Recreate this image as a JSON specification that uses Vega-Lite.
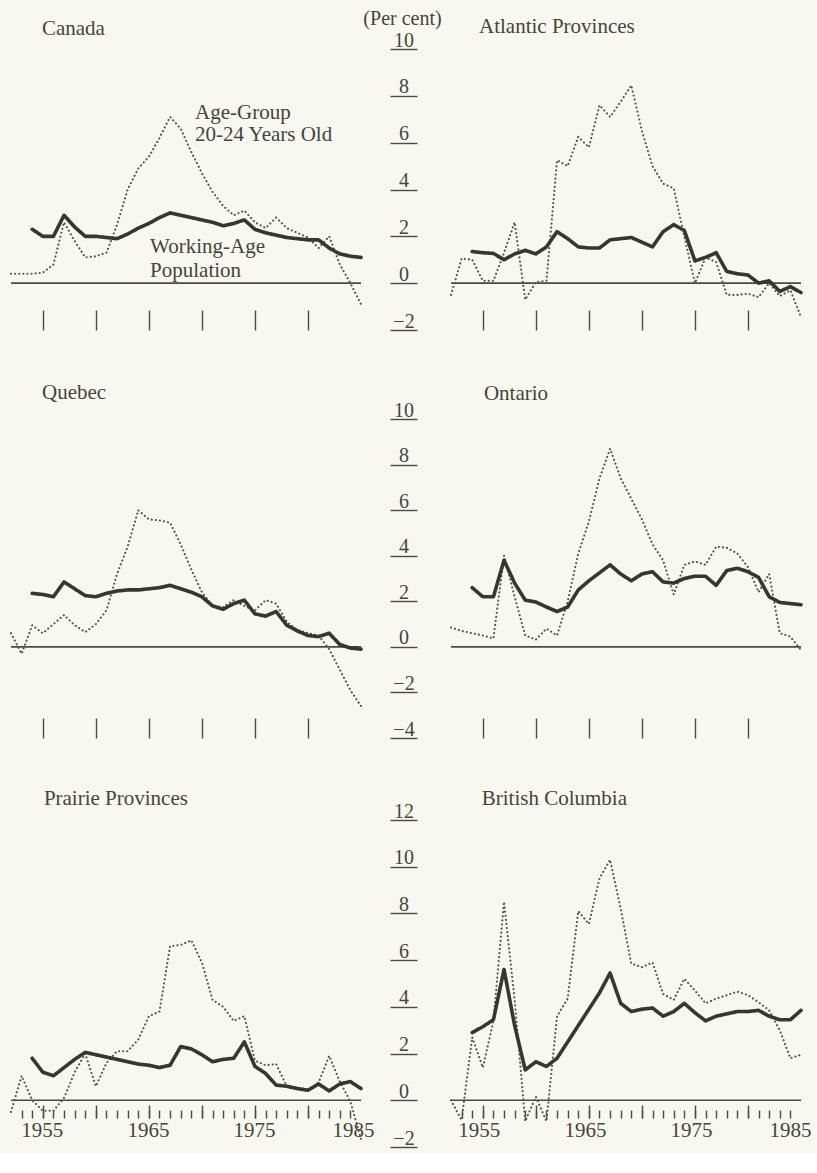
{
  "$schema": "https://vega.github.io/schema/vega-lite/v6.json",
  "background": "#f8f8f0",
  "padding": {"left": 9, "top": 8, "right": 5, "bottom": 5},
  "datasets": {
    "growth": [
      {"region": "Canada", "year": 1952, "youth": 0.4, "working": null},
      {"region": "Canada", "year": 1953, "youth": 0.4, "working": null},
      {"region": "Canada", "year": 1954, "youth": 0.4, "working": 2.3},
      {"region": "Canada", "year": 1955, "youth": 0.45, "working": 2.0},
      {"region": "Canada", "year": 1956, "youth": 0.8, "working": 2.0},
      {"region": "Canada", "year": 1957, "youth": 2.6, "working": 2.9},
      {"region": "Canada", "year": 1958, "youth": 1.8, "working": 2.4},
      {"region": "Canada", "year": 1959, "youth": 1.1, "working": 2.0},
      {"region": "Canada", "year": 1960, "youth": 1.15, "working": 2.0},
      {"region": "Canada", "year": 1961, "youth": 1.3, "working": 1.95},
      {"region": "Canada", "year": 1962, "youth": 2.5, "working": 1.9},
      {"region": "Canada", "year": 1963, "youth": 4.0, "working": 2.1},
      {"region": "Canada", "year": 1964, "youth": 4.9, "working": 2.35},
      {"region": "Canada", "year": 1965, "youth": 5.4, "working": 2.55},
      {"region": "Canada", "year": 1966, "youth": 6.2, "working": 2.8},
      {"region": "Canada", "year": 1967, "youth": 7.1, "working": 3.0},
      {"region": "Canada", "year": 1968, "youth": 6.6, "working": 2.9},
      {"region": "Canada", "year": 1969, "youth": 5.6, "working": 2.8},
      {"region": "Canada", "year": 1970, "youth": 4.7, "working": 2.7},
      {"region": "Canada", "year": 1971, "youth": 3.9, "working": 2.6},
      {"region": "Canada", "year": 1972, "youth": 3.3, "working": 2.45},
      {"region": "Canada", "year": 1973, "youth": 2.9, "working": 2.55},
      {"region": "Canada", "year": 1974, "youth": 3.1, "working": 2.7},
      {"region": "Canada", "year": 1975, "youth": 2.6, "working": 2.3},
      {"region": "Canada", "year": 1976, "youth": 2.35, "working": 2.15},
      {"region": "Canada", "year": 1977, "youth": 2.8, "working": 2.05},
      {"region": "Canada", "year": 1978, "youth": 2.35, "working": 1.95},
      {"region": "Canada", "year": 1979, "youth": 2.15, "working": 1.9},
      {"region": "Canada", "year": 1980, "youth": 1.95, "working": 1.85},
      {"region": "Canada", "year": 1981, "youth": 1.5, "working": 1.85},
      {"region": "Canada", "year": 1982, "youth": 2.0, "working": 1.5},
      {"region": "Canada", "year": 1983, "youth": 0.8, "working": 1.25},
      {"region": "Canada", "year": 1984, "youth": 0.0, "working": 1.15},
      {"region": "Canada", "year": 1985, "youth": -0.9, "working": 1.1},

      {"region": "Atlantic", "year": 1952, "youth": -0.5, "working": null},
      {"region": "Atlantic", "year": 1953, "youth": 1.05, "working": null},
      {"region": "Atlantic", "year": 1954, "youth": 1.0, "working": 1.35},
      {"region": "Atlantic", "year": 1955, "youth": 0.1, "working": 1.3},
      {"region": "Atlantic", "year": 1956, "youth": 0.1, "working": 1.27},
      {"region": "Atlantic", "year": 1957, "youth": 1.3, "working": 1.0},
      {"region": "Atlantic", "year": 1958, "youth": 2.6, "working": 1.25},
      {"region": "Atlantic", "year": 1959, "youth": -0.7, "working": 1.4},
      {"region": "Atlantic", "year": 1960, "youth": 0.05, "working": 1.25},
      {"region": "Atlantic", "year": 1961, "youth": 0.1, "working": 1.55},
      {"region": "Atlantic", "year": 1962, "youth": 5.25, "working": 2.2},
      {"region": "Atlantic", "year": 1963, "youth": 5.0, "working": 1.9},
      {"region": "Atlantic", "year": 1964, "youth": 6.25, "working": 1.55},
      {"region": "Atlantic", "year": 1965, "youth": 5.8, "working": 1.5},
      {"region": "Atlantic", "year": 1966, "youth": 7.6, "working": 1.5},
      {"region": "Atlantic", "year": 1967, "youth": 7.1, "working": 1.85},
      {"region": "Atlantic", "year": 1968, "youth": 7.75, "working": 1.9},
      {"region": "Atlantic", "year": 1969, "youth": 8.45, "working": 1.95},
      {"region": "Atlantic", "year": 1970, "youth": 6.5, "working": 1.75},
      {"region": "Atlantic", "year": 1971, "youth": 5.0, "working": 1.55},
      {"region": "Atlantic", "year": 1972, "youth": 4.25, "working": 2.2},
      {"region": "Atlantic", "year": 1973, "youth": 4.05, "working": 2.5},
      {"region": "Atlantic", "year": 1974, "youth": 2.0, "working": 2.25},
      {"region": "Atlantic", "year": 1975, "youth": 0.0, "working": 0.95},
      {"region": "Atlantic", "year": 1976, "youth": 1.1, "working": 1.1},
      {"region": "Atlantic", "year": 1977, "youth": 0.9, "working": 1.3},
      {"region": "Atlantic", "year": 1978, "youth": -0.5, "working": 0.5},
      {"region": "Atlantic", "year": 1979, "youth": -0.5, "working": 0.4},
      {"region": "Atlantic", "year": 1980, "youth": -0.45, "working": 0.35},
      {"region": "Atlantic", "year": 1981, "youth": -0.6, "working": 0.0},
      {"region": "Atlantic", "year": 1982, "youth": 0.0, "working": 0.1},
      {"region": "Atlantic", "year": 1983, "youth": -0.55, "working": -0.35},
      {"region": "Atlantic", "year": 1984, "youth": -0.3, "working": -0.15},
      {"region": "Atlantic", "year": 1985, "youth": -1.45, "working": -0.4},

      {"region": "Quebec", "year": 1952, "youth": 0.6, "working": null},
      {"region": "Quebec", "year": 1953, "youth": -0.3, "working": null},
      {"region": "Quebec", "year": 1954, "youth": 0.95, "working": 2.35},
      {"region": "Quebec", "year": 1955, "youth": 0.6, "working": 2.3},
      {"region": "Quebec", "year": 1956, "youth": 1.0, "working": 2.2},
      {"region": "Quebec", "year": 1957, "youth": 1.4, "working": 2.85},
      {"region": "Quebec", "year": 1958, "youth": 0.95, "working": 2.55},
      {"region": "Quebec", "year": 1959, "youth": 0.65, "working": 2.25},
      {"region": "Quebec", "year": 1960, "youth": 1.0, "working": 2.2},
      {"region": "Quebec", "year": 1961, "youth": 1.6, "working": 2.35},
      {"region": "Quebec", "year": 1962, "youth": 3.2, "working": 2.45},
      {"region": "Quebec", "year": 1963, "youth": 4.4, "working": 2.5},
      {"region": "Quebec", "year": 1964, "youth": 6.0, "working": 2.5},
      {"region": "Quebec", "year": 1965, "youth": 5.6, "working": 2.55},
      {"region": "Quebec", "year": 1966, "youth": 5.55, "working": 2.6},
      {"region": "Quebec", "year": 1967, "youth": 5.45, "working": 2.7},
      {"region": "Quebec", "year": 1968, "youth": 4.5, "working": 2.55},
      {"region": "Quebec", "year": 1969, "youth": 3.4, "working": 2.4},
      {"region": "Quebec", "year": 1970, "youth": 2.4, "working": 2.2},
      {"region": "Quebec", "year": 1971, "youth": 1.8, "working": 1.8},
      {"region": "Quebec", "year": 1972, "youth": 1.75, "working": 1.65},
      {"region": "Quebec", "year": 1973, "youth": 2.05, "working": 1.9},
      {"region": "Quebec", "year": 1974, "youth": 1.8, "working": 2.05},
      {"region": "Quebec", "year": 1975, "youth": 1.6, "working": 1.45},
      {"region": "Quebec", "year": 1976, "youth": 2.05, "working": 1.35},
      {"region": "Quebec", "year": 1977, "youth": 1.9, "working": 1.55},
      {"region": "Quebec", "year": 1978, "youth": 1.1, "working": 0.95},
      {"region": "Quebec", "year": 1979, "youth": 0.75, "working": 0.7},
      {"region": "Quebec", "year": 1980, "youth": 0.6, "working": 0.5},
      {"region": "Quebec", "year": 1981, "youth": 0.5, "working": 0.45},
      {"region": "Quebec", "year": 1982, "youth": -0.1, "working": 0.6},
      {"region": "Quebec", "year": 1983, "youth": -1.0, "working": 0.1},
      {"region": "Quebec", "year": 1984, "youth": -1.9, "working": -0.05},
      {"region": "Quebec", "year": 1985, "youth": -2.6, "working": -0.1},

      {"region": "Ontario", "year": 1952, "youth": 0.85, "working": null},
      {"region": "Ontario", "year": 1953, "youth": 0.7, "working": null},
      {"region": "Ontario", "year": 1954, "youth": 0.6, "working": 2.6},
      {"region": "Ontario", "year": 1955, "youth": 0.5, "working": 2.2},
      {"region": "Ontario", "year": 1956, "youth": 0.37, "working": 2.2},
      {"region": "Ontario", "year": 1957, "youth": 4.0, "working": 3.8},
      {"region": "Ontario", "year": 1958, "youth": 2.2, "working": 2.8},
      {"region": "Ontario", "year": 1959, "youth": 0.5, "working": 2.05},
      {"region": "Ontario", "year": 1960, "youth": 0.32, "working": 1.97},
      {"region": "Ontario", "year": 1961, "youth": 0.8, "working": 1.75},
      {"region": "Ontario", "year": 1962, "youth": 0.5, "working": 1.55},
      {"region": "Ontario", "year": 1963, "youth": 2.0, "working": 1.75},
      {"region": "Ontario", "year": 1964, "youth": 4.1, "working": 2.5},
      {"region": "Ontario", "year": 1965, "youth": 5.5, "working": 2.9},
      {"region": "Ontario", "year": 1966, "youth": 7.4, "working": 3.25},
      {"region": "Ontario", "year": 1967, "youth": 8.7, "working": 3.6},
      {"region": "Ontario", "year": 1968, "youth": 7.4, "working": 3.2},
      {"region": "Ontario", "year": 1969, "youth": 6.5, "working": 2.9},
      {"region": "Ontario", "year": 1970, "youth": 5.6, "working": 3.2},
      {"region": "Ontario", "year": 1971, "youth": 4.5, "working": 3.3},
      {"region": "Ontario", "year": 1972, "youth": 3.8, "working": 2.85},
      {"region": "Ontario", "year": 1973, "youth": 2.3, "working": 2.8},
      {"region": "Ontario", "year": 1974, "youth": 3.6, "working": 3.0},
      {"region": "Ontario", "year": 1975, "youth": 3.75, "working": 3.1},
      {"region": "Ontario", "year": 1976, "youth": 3.6, "working": 3.1},
      {"region": "Ontario", "year": 1977, "youth": 4.4, "working": 2.7},
      {"region": "Ontario", "year": 1978, "youth": 4.35, "working": 3.35},
      {"region": "Ontario", "year": 1979, "youth": 4.1, "working": 3.45},
      {"region": "Ontario", "year": 1980, "youth": 3.5, "working": 3.3},
      {"region": "Ontario", "year": 1981, "youth": 2.4, "working": 3.05},
      {"region": "Ontario", "year": 1982, "youth": 3.2, "working": 2.2},
      {"region": "Ontario", "year": 1983, "youth": 0.6, "working": 1.95},
      {"region": "Ontario", "year": 1984, "youth": 0.45, "working": 1.9},
      {"region": "Ontario", "year": 1985, "youth": -0.15, "working": 1.85},

      {"region": "Prairie", "year": 1952, "youth": -0.5, "working": null},
      {"region": "Prairie", "year": 1953, "youth": 1.05, "working": null},
      {"region": "Prairie", "year": 1954, "youth": 0.0, "working": 1.8},
      {"region": "Prairie", "year": 1955, "youth": -0.45, "working": 1.2},
      {"region": "Prairie", "year": 1956, "youth": -0.45, "working": 1.05},
      {"region": "Prairie", "year": 1957, "youth": 0.1, "working": 1.4},
      {"region": "Prairie", "year": 1958, "youth": 1.2, "working": 1.75},
      {"region": "Prairie", "year": 1959, "youth": 2.0, "working": 2.05},
      {"region": "Prairie", "year": 1960, "youth": 0.6, "working": 1.95},
      {"region": "Prairie", "year": 1961, "youth": 1.6, "working": 1.85},
      {"region": "Prairie", "year": 1962, "youth": 2.1, "working": 1.75},
      {"region": "Prairie", "year": 1963, "youth": 2.1, "working": 1.65},
      {"region": "Prairie", "year": 1964, "youth": 2.6, "working": 1.55},
      {"region": "Prairie", "year": 1965, "youth": 3.6, "working": 1.5},
      {"region": "Prairie", "year": 1966, "youth": 3.8, "working": 1.4},
      {"region": "Prairie", "year": 1967, "youth": 6.6, "working": 1.5},
      {"region": "Prairie", "year": 1968, "youth": 6.65, "working": 2.3},
      {"region": "Prairie", "year": 1969, "youth": 6.85, "working": 2.2},
      {"region": "Prairie", "year": 1970, "youth": 5.9, "working": 1.95},
      {"region": "Prairie", "year": 1971, "youth": 4.3, "working": 1.65},
      {"region": "Prairie", "year": 1972, "youth": 4.0, "working": 1.75},
      {"region": "Prairie", "year": 1973, "youth": 3.4, "working": 1.8},
      {"region": "Prairie", "year": 1974, "youth": 3.6, "working": 2.5},
      {"region": "Prairie", "year": 1975, "youth": 1.7, "working": 1.45},
      {"region": "Prairie", "year": 1976, "youth": 1.5, "working": 1.15},
      {"region": "Prairie", "year": 1977, "youth": 1.55, "working": 0.65},
      {"region": "Prairie", "year": 1978, "youth": 0.6, "working": 0.6},
      {"region": "Prairie", "year": 1979, "youth": 0.55, "working": 0.5},
      {"region": "Prairie", "year": 1980, "youth": 0.45, "working": 0.43},
      {"region": "Prairie", "year": 1981, "youth": 0.75, "working": 0.7},
      {"region": "Prairie", "year": 1982, "youth": 1.9, "working": 0.4},
      {"region": "Prairie", "year": 1983, "youth": 0.8, "working": 0.7},
      {"region": "Prairie", "year": 1984, "youth": -0.05, "working": 0.8},
      {"region": "Prairie", "year": 1985, "youth": -1.65, "working": 0.5},

      {"region": "BC", "year": 1952, "youth": 0.0, "working": null},
      {"region": "BC", "year": 1953, "youth": -0.85, "working": null},
      {"region": "BC", "year": 1954, "youth": 2.7, "working": 2.9},
      {"region": "BC", "year": 1955, "youth": 1.4, "working": 3.15},
      {"region": "BC", "year": 1956, "youth": 3.4, "working": 3.45},
      {"region": "BC", "year": 1957, "youth": 8.5, "working": 5.6},
      {"region": "BC", "year": 1958, "youth": 4.3, "working": 3.2},
      {"region": "BC", "year": 1959, "youth": -0.9, "working": 1.3},
      {"region": "BC", "year": 1960, "youth": 0.15, "working": 1.65},
      {"region": "BC", "year": 1961, "youth": -0.9, "working": 1.45},
      {"region": "BC", "year": 1962, "youth": 3.6, "working": 1.8},
      {"region": "BC", "year": 1963, "youth": 4.35, "working": 2.5},
      {"region": "BC", "year": 1964, "youth": 8.1, "working": 3.2},
      {"region": "BC", "year": 1965, "youth": 7.55, "working": 3.9},
      {"region": "BC", "year": 1966, "youth": 9.5, "working": 4.6},
      {"region": "BC", "year": 1967, "youth": 10.3, "working": 5.45},
      {"region": "BC", "year": 1968, "youth": 8.2, "working": 4.15},
      {"region": "BC", "year": 1969, "youth": 5.85, "working": 3.8},
      {"region": "BC", "year": 1970, "youth": 5.7, "working": 3.9},
      {"region": "BC", "year": 1971, "youth": 5.9, "working": 3.95},
      {"region": "BC", "year": 1972, "youth": 4.55, "working": 3.6},
      {"region": "BC", "year": 1973, "youth": 4.3, "working": 3.8},
      {"region": "BC", "year": 1974, "youth": 5.2, "working": 4.15},
      {"region": "BC", "year": 1975, "youth": 4.7, "working": 3.75},
      {"region": "BC", "year": 1976, "youth": 4.15, "working": 3.4},
      {"region": "BC", "year": 1977, "youth": 4.35, "working": 3.6},
      {"region": "BC", "year": 1978, "youth": 4.5, "working": 3.7},
      {"region": "BC", "year": 1979, "youth": 4.65, "working": 3.8},
      {"region": "BC", "year": 1980, "youth": 4.5, "working": 3.8},
      {"region": "BC", "year": 1981, "youth": 4.2, "working": 3.85},
      {"region": "BC", "year": 1982, "youth": 3.85, "working": 3.6},
      {"region": "BC", "year": 1983, "youth": 3.0, "working": 3.45},
      {"region": "BC", "year": 1984, "youth": 1.8, "working": 3.45},
      {"region": "BC", "year": 1985, "youth": 1.95, "working": 3.85}
    ]
  },
  "columns": 2,
  "spacing": {"row": 82, "column": 90},
  "bounds": "flush",
  "concat": [
    {
      "width": 350, "height": 281,
      "layer": [
        {"data": {"values": [{}]}, "mark": {"type": "rule", "color": "#4b4b44", "strokeWidth": 1.6},
         "encoding": {"y": {"datum": 0, "type": "quantitative", "scale": {"domain": [-2, 10], "nice": false, "zero": false}, "axis": null}}},
        {"data": {"name": "growth"},
         "transform": [{"filter": {"field": "region", "equal": "Canada"}}, {"fold": ["youth", "working"], "as": ["series", "v"]}],
         "mark": {"type": "line", "strokeCap": "round", "strokeJoin": "round"},
         "encoding": {
           "x": {"field": "year", "type": "quantitative", "scale": {"domain": [1952, 1985], "nice": false, "zero": false},
                 "axis": {"values": [1955, 1960, 1965, 1970, 1975, 1980], "labels": false, "tickSize": -20, "title": null}},
           "y": {"field": "v", "type": "quantitative", "scale": {"domain": [-2, 10], "nice": false, "zero": false}, "axis": null},
           "detail": {"field": "series"},
           "strokeDash": {"field": "series", "type": "nominal", "scale": {"domain": ["youth", "working"], "range": [[0.1, 4], [1, 0]]}, "legend": null},
           "strokeWidth": {"field": "series", "type": "nominal", "scale": {"domain": ["youth", "working"], "range": [2.1, 3.6]}, "legend": null},
           "color": {"field": "series", "type": "nominal", "scale": {"domain": ["youth", "working"], "range": ["#55554d", "#37372f"]}, "legend": null}
         }},
        {"data": {"values": [
           {"year": 1954.92, "v": 10.6, "t": "Canada"},
           {"year": 1969.36, "v": 7.0, "t": "Age-Group"},
           {"year": 1969.36, "v": 6.07, "t": "20-24 Years Old"},
           {"year": 1965.11, "v": 1.28, "t": "Working-Age"},
           {"year": 1965.11, "v": 0.26, "t": "Population"}
         ]},
         "mark": {"type": "text", "align": "left", "baseline": "alphabetic"},
         "encoding": {"x": {"field": "year", "type": "quantitative"}, "y": {"field": "v", "type": "quantitative", "axis": null}, "text": {"field": "t"}}}
      ]
    },
    {
      "width": 350, "height": 281,
      "layer": [
        {"data": {"values": [{}]}, "mark": {"type": "rule", "color": "#4b4b44", "strokeWidth": 1.6},
         "encoding": {"y": {"datum": 0, "type": "quantitative", "scale": {"domain": [-2, 10], "nice": false, "zero": false}}}},
        {"data": {"name": "growth"},
         "transform": [{"filter": {"field": "region", "equal": "Atlantic"}}, {"fold": ["youth", "working"], "as": ["series", "v"]}],
         "mark": {"type": "line", "strokeCap": "round", "strokeJoin": "round"},
         "encoding": {
           "x": {"field": "year", "type": "quantitative", "scale": {"domain": [1952, 1985], "nice": false, "zero": false},
                 "axis": {"values": [1955, 1960, 1965, 1970, 1975, 1980], "labels": false, "tickSize": -20, "title": null}},
           "y": {"field": "v", "type": "quantitative", "scale": {"domain": [-2, 10], "nice": false, "zero": false},
                 "axis": {"orient": "left", "values": [-2, 0, 2, 4, 6, 8, 10], "offset": 34, "tickSize": 27, "labelPadding": -13.5, "labelAlign": "center", "labelBaseline": "alphabetic", "labelOffset": -3, "labelOverlap": false, "labelFlush": false,
                          "title": "(Per cent)", "titleAngle": 0, "titleX": -15, "titleY": -25, "titleAlign": "center", "titleBaseline": "alphabetic"}},
           "detail": {"field": "series"},
           "strokeDash": {"field": "series", "type": "nominal", "scale": {"domain": ["youth", "working"], "range": [[0.1, 4], [1, 0]]}, "legend": null},
           "strokeWidth": {"field": "series", "type": "nominal", "scale": {"domain": ["youth", "working"], "range": [2.1, 3.6]}, "legend": null},
           "color": {"field": "series", "type": "nominal", "scale": {"domain": ["youth", "working"], "range": ["#55554d", "#37372f"]}, "legend": null}
         }},
        {"data": {"values": [{"year": 1954.64, "v": 10.68, "t": "Atlantic Provinces"}]},
         "mark": {"type": "text", "align": "left", "baseline": "alphabetic"},
         "encoding": {"x": {"field": "year", "type": "quantitative"}, "y": {"field": "v", "type": "quantitative"}, "text": {"field": "t"}}}
      ]
    },
    {
      "width": 350, "height": 326,
      "layer": [
        {"data": {"values": [{}]}, "mark": {"type": "rule", "color": "#4b4b44", "strokeWidth": 1.6},
         "encoding": {"y": {"datum": 0, "type": "quantitative", "scale": {"domain": [-4, 10.31], "nice": false, "zero": false}, "axis": null}}},
        {"data": {"name": "growth"},
         "transform": [{"filter": {"field": "region", "equal": "Quebec"}}, {"fold": ["youth", "working"], "as": ["series", "v"]}],
         "mark": {"type": "line", "strokeCap": "round", "strokeJoin": "round"},
         "encoding": {
           "x": {"field": "year", "type": "quantitative", "scale": {"domain": [1952, 1985], "nice": false, "zero": false},
                 "axis": {"values": [1955, 1960, 1965, 1970, 1975, 1980], "labels": false, "tickSize": -20, "title": null}},
           "y": {"field": "v", "type": "quantitative", "scale": {"domain": [-4, 10.31], "nice": false, "zero": false}, "axis": null},
           "detail": {"field": "series"},
           "strokeDash": {"field": "series", "type": "nominal", "scale": {"domain": ["youth", "working"], "range": [[0.1, 4], [1, 0]]}, "legend": null},
           "strokeWidth": {"field": "series", "type": "nominal", "scale": {"domain": ["youth", "working"], "range": [2.1, 3.6]}, "legend": null},
           "color": {"field": "series", "type": "nominal", "scale": {"domain": ["youth", "working"], "range": ["#55554d", "#37372f"]}, "legend": null}
         }},
        {"data": {"values": [{"year": 1954.92, "v": 10.88, "t": "Quebec"}]},
         "mark": {"type": "text", "align": "left", "baseline": "alphabetic"},
         "encoding": {"x": {"field": "year", "type": "quantitative"}, "y": {"field": "v", "type": "quantitative", "axis": null}, "text": {"field": "t"}}}
      ]
    },
    {
      "width": 350, "height": 326,
      "layer": [
        {"data": {"values": [{}]}, "mark": {"type": "rule", "color": "#4b4b44", "strokeWidth": 1.6},
         "encoding": {"y": {"datum": 0, "type": "quantitative", "scale": {"domain": [-4, 10.31], "nice": false, "zero": false}}}},
        {"data": {"name": "growth"},
         "transform": [{"filter": {"field": "region", "equal": "Ontario"}}, {"fold": ["youth", "working"], "as": ["series", "v"]}],
         "mark": {"type": "line", "strokeCap": "round", "strokeJoin": "round"},
         "encoding": {
           "x": {"field": "year", "type": "quantitative", "scale": {"domain": [1952, 1985], "nice": false, "zero": false},
                 "axis": {"values": [1955, 1960, 1965, 1970, 1975, 1980], "labels": false, "tickSize": -20, "title": null}},
           "y": {"field": "v", "type": "quantitative", "scale": {"domain": [-4, 10.31], "nice": false, "zero": false},
                 "axis": {"orient": "left", "values": [-4, -2, 0, 2, 4, 6, 8, 10], "offset": 34, "tickSize": 27, "labelPadding": -13.5, "labelAlign": "center", "labelBaseline": "alphabetic", "labelOffset": -3, "labelOverlap": false, "labelFlush": false, "title": null}},
           "detail": {"field": "series"},
           "strokeDash": {"field": "series", "type": "nominal", "scale": {"domain": ["youth", "working"], "range": [[0.1, 4], [1, 0]]}, "legend": null},
           "strokeWidth": {"field": "series", "type": "nominal", "scale": {"domain": ["youth", "working"], "range": [2.1, 3.6]}, "legend": null},
           "color": {"field": "series", "type": "nominal", "scale": {"domain": ["youth", "working"], "range": ["#55554d", "#37372f"]}, "legend": null}
         }},
        {"data": {"values": [{"year": 1955.1, "v": 10.83, "t": "Ontario"}]},
         "mark": {"type": "text", "align": "left", "baseline": "alphabetic"},
         "encoding": {"x": {"field": "year", "type": "quantitative"}, "y": {"field": "v", "type": "quantitative"}, "text": {"field": "t"}}}
      ]
    },
    {
      "width": 350, "height": 327,
      "resolve": {"axis": {"x": "independent"}},
      "layer": [
        {"data": {"values": [{}]}, "mark": {"type": "rule", "color": "#4b4b44", "strokeWidth": 1.6},
         "encoding": {"y": {"datum": 0, "type": "quantitative", "scale": {"domain": [-2, 12], "nice": false, "zero": false}, "axis": null}}},
        {"data": {"name": "growth"},
         "transform": [{"filter": {"field": "region", "equal": "Prairie"}}, {"fold": ["youth", "working"], "as": ["series", "v"]}],
         "mark": {"type": "line", "strokeCap": "round", "strokeJoin": "round"},
         "encoding": {
           "x": {"field": "year", "type": "quantitative", "scale": {"domain": [1952, 1985], "nice": false, "zero": false},
                 "axis": {"orient": "bottom", "values": [1953, 1954, 1955, 1956, 1957, 1958, 1959, 1960, 1961, 1962, 1963, 1964, 1965, 1966, 1967, 1968, 1969, 1970, 1971, 1972, 1973, 1974, 1975, 1976, 1977, 1978, 1979, 1980, 1981, 1982, 1983, 1984, 1985],
                          "tickCount": 40, "format": "d", "labelExpr": "datum.value % 10 === 5 ? datum.label : ''",
                          "tickSize": -8,
                          "tickOpacity": {"condition": {"test": "datum.value === 1985", "value": 0}, "value": 1},
                          "labelOffset": {"condition": {"test": "datum.value === 1985", "value": -8}, "value": -1},
                          "offset": -29, "labelPadding": 9, "labelBaseline": "top", "labelFontSize": 21, "labelOverlap": false, "labelFlush": false, "title": null}},
           "y": {"field": "v", "type": "quantitative", "scale": {"domain": [-2, 12], "nice": false, "zero": false}, "axis": null},
           "detail": {"field": "series"},
           "strokeDash": {"field": "series", "type": "nominal", "scale": {"domain": ["youth", "working"], "range": [[0.1, 4], [1, 0]]}, "legend": null},
           "strokeWidth": {"field": "series", "type": "nominal", "scale": {"domain": ["youth", "working"], "range": [2.1, 3.6]}, "legend": null},
           "color": {"field": "series", "type": "nominal", "scale": {"domain": ["youth", "working"], "range": ["#55554d", "#37372f"]}, "legend": null}
         }},
        {"data": {"values": [{"year": 1955.1, "v": 12.63, "t": "Prairie Provinces"}]},
         "mark": {"type": "text", "align": "left", "baseline": "alphabetic"},
         "encoding": {"x": {"field": "year", "type": "quantitative",
                            "axis": {"orient": "bottom", "values": [1955, 1960, 1965, 1970, 1975, 1980], "tickCount": 40, "labels": false, "tickSize": -13, "offset": -29, "title": null}},
                      "y": {"field": "v", "type": "quantitative", "axis": null}, "text": {"field": "t"}}}
      ]
    },
    {
      "width": 350, "height": 327,
      "resolve": {"axis": {"x": "independent"}},
      "layer": [
        {"data": {"values": [{}]}, "mark": {"type": "rule", "color": "#4b4b44", "strokeWidth": 1.6},
         "encoding": {"y": {"datum": 0, "type": "quantitative", "scale": {"domain": [-2, 12], "nice": false, "zero": false}}}},
        {"data": {"name": "growth"},
         "transform": [{"filter": {"field": "region", "equal": "BC"}}, {"fold": ["youth", "working"], "as": ["series", "v"]}],
         "mark": {"type": "line", "strokeCap": "round", "strokeJoin": "round"},
         "encoding": {
           "x": {"field": "year", "type": "quantitative", "scale": {"domain": [1952, 1985], "nice": false, "zero": false},
                 "axis": {"orient": "bottom", "values": [1953, 1954, 1955, 1956, 1957, 1958, 1959, 1960, 1961, 1962, 1963, 1964, 1965, 1966, 1967, 1968, 1969, 1970, 1971, 1972, 1973, 1974, 1975, 1976, 1977, 1978, 1979, 1980, 1981, 1982, 1983, 1984, 1985],
                          "tickCount": 40, "format": "d", "labelExpr": "datum.value % 10 === 5 ? datum.label : ''",
                          "tickSize": -8,
                          "tickOpacity": {"condition": {"test": "datum.value === 1985", "value": 0}, "value": 1},
                          "labelOffset": {"condition": {"test": "datum.value === 1985", "value": -11}, "value": -4},
                          "offset": -29, "labelPadding": 9, "labelBaseline": "top", "labelFontSize": 21, "labelOverlap": false, "labelFlush": false, "title": null}},
           "y": {"field": "v", "type": "quantitative", "scale": {"domain": [-2, 12], "nice": false, "zero": false},
                 "axis": {"orient": "left", "values": [-2, 0, 2, 4, 6, 8, 10, 12], "offset": 34, "tickSize": 27, "labelPadding": -13.5, "labelAlign": "center", "labelBaseline": "alphabetic", "labelOffset": -3, "labelOverlap": false, "labelFlush": false, "title": null}},
           "detail": {"field": "series"},
           "strokeDash": {"field": "series", "type": "nominal", "scale": {"domain": ["youth", "working"], "range": [[0.1, 4], [1, 0]]}, "legend": null},
           "strokeWidth": {"field": "series", "type": "nominal", "scale": {"domain": ["youth", "working"], "range": [2.1, 3.6]}, "legend": null},
           "color": {"field": "series", "type": "nominal", "scale": {"domain": ["youth", "working"], "range": ["#55554d", "#37372f"]}, "legend": null}
         }},
        {"data": {"values": [{"year": 1954.9, "v": 12.63, "t": "British Columbia"}]},
         "mark": {"type": "text", "align": "left", "baseline": "alphabetic"},
         "encoding": {"x": {"field": "year", "type": "quantitative",
                            "axis": {"orient": "bottom", "values": [1955, 1960, 1965, 1970, 1975, 1980], "tickCount": 40, "labels": false, "tickSize": -13, "offset": -29, "title": null}},
                      "y": {"field": "v", "type": "quantitative"}, "text": {"field": "t"}}}
      ]
    }
  ],
  "config": {
    "view": {"stroke": null},
    "font": "Liberation Serif",
    "axis": {"domain": false, "grid": false, "labelFont": "Liberation Serif", "labelFontSize": 20, "labelColor": "#45453c",
             "tickColor": "#4b4b44", "tickWidth": 1.4, "titleFont": "Liberation Serif", "titleFontSize": 20, "titleFontWeight": "normal", "titleColor": "#45453c"},
    "text": {"font": "Liberation Serif", "fontSize": 21, "color": "#45453c"}
  }
}
